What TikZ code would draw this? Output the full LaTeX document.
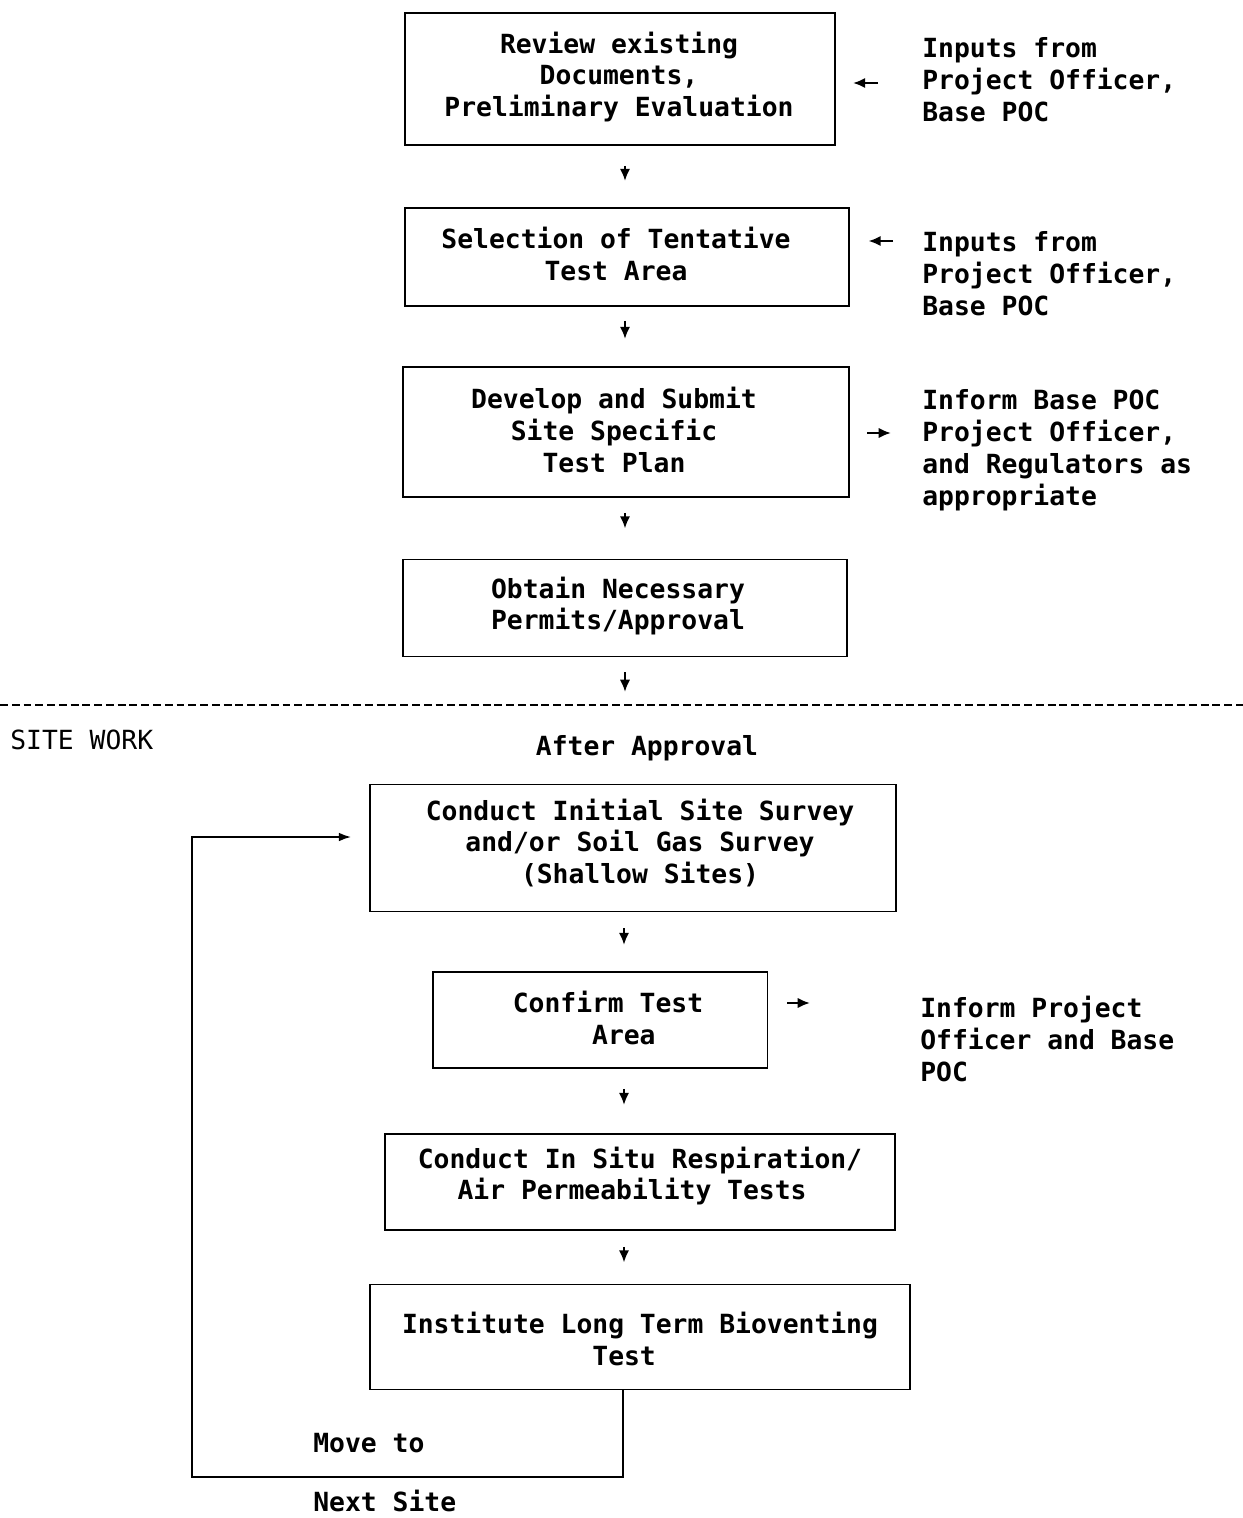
\documentclass[tikz,border=0pt]{standalone}
\usepackage{fontspec}
\newfontfamily\diafont{DejaVu Sans Mono}
\usetikzlibrary{arrows.meta}
\begin{document}
\begin{tikzpicture}[x=0.02cm,y=-0.02cm,
  box/.style={draw, line width=1.1pt, inner sep=0pt},
  txt/.style={font=\fontsize{15}{18.14}\selectfont\diafont\bfseries, align=center, inner sep=0pt},
  side/.style={txt, align=left, anchor=west},
  plain/.style={font=\fontsize{15}{18.14}\selectfont\diafont, inner sep=0pt, anchor=west},
  arr/.style={line width=1.4pt, -{Latex[length=7pt,width=6pt]}},
  looparr/.style={line width=1pt, -{Latex[length=7pt,width=5pt]}},
  sep/.style={line width=1.6pt, dash pattern=on 4.5pt off 2.2pt}]
\useasboundingbox (0,0) rectangle (1243,1518);

% boxes
\node[box, minimum width=8.6cm,  minimum height=2.64cm] (b1) at (620,79) {};
\node[box, minimum width=8.9cm,  minimum height=1.96cm] (b2) at (627,257) {};
\node[box, minimum width=8.94cm, minimum height=2.6cm]  (b3) at (626,432) {};
\node[box, minimum width=8.9cm,  minimum height=1.94cm] (b4) at (625,608) {};
\node[box, minimum width=10.52cm,minimum height=2.54cm] (b5) at (633,848) {};
\node[box, minimum width=6.7cm,  minimum height=1.92cm] (b6) at (600,1020) {};
\node[box, minimum width=10.2cm, minimum height=1.92cm] (b7) at (640,1182) {};
\node[box, minimum width=10.8cm, minimum height=2.1cm]  (b8) at (640,1337) {};

% box texts
\node[txt] (t1) at (619,77) {Review existing\\Documents,\\Preliminary Evaluation};
\node[txt] (t2) at (616,254) {Selection of Tentative\\Test Area};
\node[txt] (t3) at (614,430) {Develop and Submit\\Site Specific\\Test Plan};
\node[txt] (t4) at (618,606) {Obtain Necessary\\Permits/Approval};
\node[txt] (t5) at (640,843) {Conduct Initial Site Survey\\and/or Soil Gas Survey\\(Shallow Sites)};
\node[txt] (t6) at (608,1018) {Confirm Test\\\hphantom{xx}Area};
\node[txt] (t7) at (640,1176) {Conduct In Situ Respiration/\\Air Permeability Tests\hphantom{x}};
\node[txt] (t8) at (640,1339) {Institute Long Term Bioventing\\Test\hphantom{xx}};

% side texts
\node[side] (s1) at (922,80) {Inputs from\\Project Officer,\\Base POC};
\node[side] (s2) at (922,274) {Inputs from\\Project Officer,\\Base POC};
\node[side] (s3) at (922,450) {Inform Base POC\\Project Officer,\\and Regulators as\\appropriate};
\node[side] (s4) at (920,1039) {Inform Project\\Officer and Base\\POC};

% labels
\node[plain] (sw) at (10,740) {SITE WORK};
\node[txt] (aa) at (647,748) {After Approval};
\node[side] (mv) at (313,1443) {Move to};
\node[side] (ns) at (313,1501) {Next Site};

% separator
\draw[sep] (0,705) -- (1243,705);

% helper coordinates
\coordinate (cx) at (625,0);
\coordinate (cx2) at (624,0);
\coordinate (y1) at (0,83);
\coordinate (y2) at (0,241);
\coordinate (y3) at (0,433);
\coordinate (y6) at (0,1003);
\coordinate (a4end) at (625,692);
\coordinate (lp1) at (623,1477);
\coordinate (lp2) at (192,1477);
\coordinate (lp3) at (192,837);

% vertical arrows
\draw[arr, shorten <=0.4cm,  shorten >=0.52cm] (b1.south -| cx) -- (b2.north -| cx);
\draw[arr, shorten <=0.28cm, shorten >=0.54cm] (b2.south -| cx) -- (b3.north -| cx);
\draw[arr, shorten <=0.3cm,  shorten >=0.6cm]  (b3.south -| cx) -- (b4.north -| cx);
\draw[arr, shorten <=0.3cm] (b4.south -| cx) -- (a4end);
\draw[arr, shorten <=0.32cm, shorten >=0.52cm] (b5.south -| cx2) -- (b6.north -| cx2);
\draw[arr, shorten <=0.4cm,  shorten >=0.56cm] (b6.south -| cx2) -- (b7.north -| cx2);
\draw[arr, shorten <=0.32cm, shorten >=0.42cm] (b7.south -| cx2) -- (b8.north -| cx2);

% side arrows
\draw[arr, shorten <=0.88cm, shorten >=0.34cm] (s1.west |- y1) -- (b1.east |- y1);
\draw[arr, shorten <=0.58cm, shorten >=0.36cm] (s2.west |- y2) -- (b2.east |- y2);
\draw[arr, shorten <=0.34cm, shorten >=0.62cm] (b3.east |- y3) -- (s3.west |- y3);
\draw[arr, shorten <=0.38cm, shorten >=2.2cm]  (b6.east |- y6) -- (s4.west |- y6);

% loop back
\draw[looparr, shorten >=0.36cm] (b8.south -| lp1) -- (lp1) -- (lp2) -- (lp3) -- (b5.west |- lp3);
\end{tikzpicture}
\end{document}
